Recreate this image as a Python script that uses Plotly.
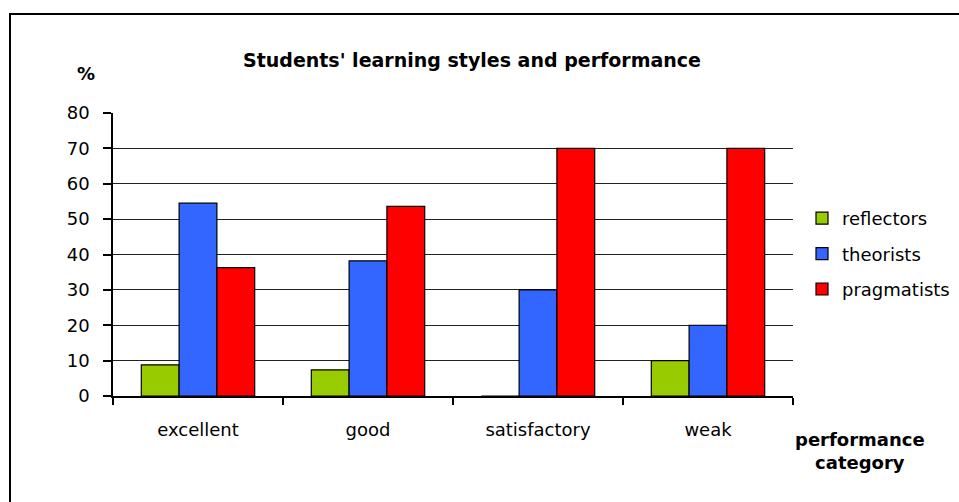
import plotly.graph_objects as go

# Performance categories and share of each learning style (%)
categories = ["excellent", "good", "satisfactory", "weak"]
reflectors = [8.8, 7.4, 0, 10]
theorists = [54.5, 38.2, 30, 20]
pragmatists = [36.3, 53.6, 70, 70]
y_ticks = [0, 10, 20, 30, 40, 50, 60, 70, 80]

series = [
    ("reflectors", reflectors, "#99CC00"),
    ("theorists", theorists, "#3366FF"),
    ("pragmatists", pragmatists, "#FF0000"),
]

W, H = 959, 502
L, R, T, B = 113, 166, 113, 106
plot_w, plot_h = W - L - R, H - T - B


def px_to_paper_x(px):
    return (px - L) / plot_w


def px_to_paper_y(py):
    return (H - B - py) / plot_h


FONT = "DejaVu Sans"

fig = go.Figure()
for i, (name, vals, color) in enumerate(series):
    fig.add_trace(go.Bar(
        name=name,
        x=categories,
        y=vals,
        legendgroup=f"g{i}",
        marker=dict(color=color, line=dict(color="black", width=1.2)),
    ))

fig.update_layout(
    width=W,
    height=H,
    margin=dict(l=L, r=R, t=T, b=B, autoexpand=False),
    paper_bgcolor="white",
    plot_bgcolor="white",
    barmode="group",
    bargap=0.333,
    bargroupgap=0,
    font=dict(family=FONT, size=18, color="black"),
    title=dict(
        text="<b>Students' learning styles and performance</b>",
        font=dict(family=FONT, size=19, color="black"),
        xref="container", yref="container",
        x=472 / W, y=1 - 60 / H,
        xanchor="center", yanchor="middle",
    ),
    legend=dict(
        xref="container", yref="container",
        x=802 / W, y=1 - 254 / H,
        xanchor="left", yanchor="middle",
        font=dict(family=FONT, size=18, color="black"),
        tracegroupgap=9,
        bgcolor="rgba(0,0,0,0)",
    ),
    xaxis=dict(
        showline=True, linecolor="black", linewidth=1.5,
        ticks="outside", tickson="boundaries", ticklen=7,
        tickcolor="black", tickwidth=1.5,
        showgrid=False,
        tickfont=dict(family=FONT, size=18, color="black"),
        ticklabelstandoff=17,
    ),
    yaxis=dict(
        range=[0, 80],
        tickvals=y_ticks,
        showline=True, linecolor="black", linewidth=1.5,
        ticks="outside", ticklen=8, tickcolor="black", tickwidth=1.5,
        showgrid=True, gridcolor="#222222", gridwidth=1.4,
        zeroline=False,
        tickfont=dict(family=FONT, size=18, color="black"),
        ticklabelstandoff=10,
    ),
    annotations=[
        dict(text="<b>%</b>", xref="paper", yref="paper",
             x=px_to_paper_x(86), y=px_to_paper_y(73),
             xanchor="center", yanchor="middle", showarrow=False,
             font=dict(family=FONT, size=18, color="black")),
        dict(text="<b>performance<br>category</b>", xref="paper", yref="paper",
             x=px_to_paper_x(860), y=px_to_paper_y(451),
             xanchor="center", yanchor="middle", showarrow=False,
             font=dict(family=FONT, size=18, color="black")),
    ],
    shapes=[
        # chart frame (left and top edges visible, right/bottom run off the page)
        dict(type="rect", xref="paper", yref="paper",
             x0=px_to_paper_x(10), x1=px_to_paper_x(W + 20),
             y0=px_to_paper_y(H + 20), y1=px_to_paper_y(14),
             line=dict(color="black", width=2), layer="above"),
    ],
)

fig.write_html("out.html")
